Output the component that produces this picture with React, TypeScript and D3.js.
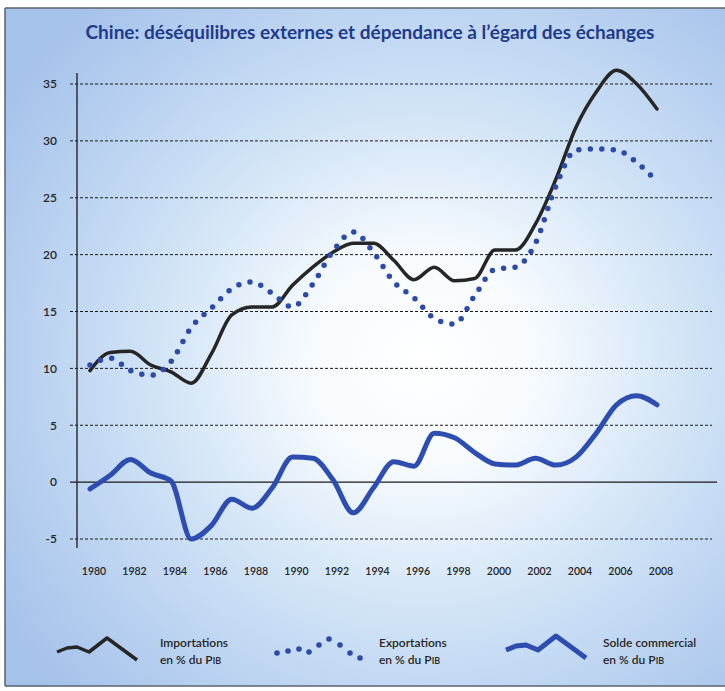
import * as d3 from "d3";
import React, { useEffect, useRef } from "react";

// Chine : importations, exportations, solde commercial (% du PIB)
const years = d3.range(1980, 2009);

const importations = [
  9.8, 11.4, 11.5, 10.3, 9.7, 8.7, 11.3, 14.7, 15.4, 15.4, 17.3, 18.9, 20.2,
  21.0, 21.0, 19.5, 17.8, 18.9, 17.7, 17.9, 20.4, 20.4, 22.7, 26.6, 31.2, 34.3,
  36.2, 35.0, 32.8,
];

const exportations = [
  10.3, 10.9, 9.8, 9.4, 10.6, 13.6, 15.3, 17.0, 17.6, 16.6, 15.4, 17.4, 20.3,
  22.0, 20.2, 17.6, 16.2, 14.4, 13.9, 16.4, 18.7, 18.9, 21.0, 26.0, 29.2, 29.3,
  29.2, 28.1, 26.4,
];

const solde = [
  -0.6, 0.6, 2.0, 0.8, 0.1, -5.0, -3.8, -1.5, -2.3, -0.5, 2.2, 2.1, 0.2, -2.7,
  -0.5, 1.8, 1.4, 4.3, 3.9, 2.6, 1.6, 1.5, 2.1, 1.5, 2.2, 4.3, 6.8, 7.6, 6.8,
];

const yTicks = [-5, 0, 5, 10, 15, 20, 25, 30, 35];
const xTicks = d3.range(1980, 2009, 2);

const title =
  "Chine: déséquilibres externes et dépendance à l\u2019égard des échanges";

const legendItems = ["Importations", "Exportations", "Solde commercial"];

const App: React.FC = () => {
  const svgRef = useRef<SVGSVGElement>(null);

  useEffect(() => {
    if (!svgRef.current) return;
    const width = 725;
    const height = 691;
    const font = "Lato, 'Open Sans', sans-serif";
    const blue = "#2c4aa8";
    const ink = "#262626";

    d3.select(svgRef.current).selectAll("*").remove();
    const svg = d3
      .select(svgRef.current)
      .attr("width", width)
      .attr("height", height)
      .style("display", "block");

    // background
    const defs = svg.append("defs");
    const grad = defs
      .append("radialGradient")
      .attr("id", "bg")
      .attr("cx", "0.58")
      .attr("cy", "0.52")
      .attr("r", "0.7");
    grad.append("stop").attr("offset", "0%").attr("stop-color", "#ffffff");
    grad.append("stop").attr("offset", "22%").attr("stop-color", "#f7fbfe");
    grad.append("stop").attr("offset", "55%").attr("stop-color", "#cfe2f6");
    grad.append("stop").attr("offset", "100%").attr("stop-color", "#a5c2eb");

    svg.append("rect").attr("width", width).attr("height", height).attr("fill", "#fff");
    svg
      .append("rect")
      .attr("x", 5)
      .attr("y", 8)
      .attr("width", width - 5)
      .attr("height", 678)
      .attr("fill", "url(#bg)");
    const frame = svg.append("g").attr("stroke", "#5a6270").attr("stroke-width", 1.5);
    frame.append("line").attr("x1", 5).attr("x2", width).attr("y1", 8).attr("y2", 8);
    frame.append("line").attr("x1", 5).attr("x2", 5).attr("y1", 8).attr("y2", 686);
    frame.append("line").attr("x1", 5).attr("x2", width).attr("y1", 686).attr("y2", 686);

    // title
    svg
      .append("text")
      .attr("x", 370)
      .attr("y", 39)
      .attr("text-anchor", "middle")
      .attr("font-family", font)
      .attr("font-weight", 700)
      .attr("font-size", 19)
      .attr("fill", "#1f3b8c")
      .text(title);

    // scales
    const x = d3.scaleLinear().domain([1980, 2008]).range([90, 657]);
    const y = d3.scaleLinear().domain([-5, 35]).range([539, 84]);

    // grid
    const grid = svg.append("g");
    grid
      .selectAll("line")
      .data(yTicks)
      .join("line")
      .attr("x1", 70)
      .attr("x2", (d) => (d === 0 ? 717 : 712))
      .attr("y1", (d) => y(d))
      .attr("y2", (d) => y(d))
      .attr("stroke", "#1a1a1a")
      .attr("stroke-width", (d) => (d === 0 ? 1.3 : 1))
      .attr("stroke-dasharray", (d) => (d === 0 ? null : "3 2"));

    svg
      .append("line")
      .attr("x1", 77)
      .attr("x2", 77)
      .attr("y1", 73)
      .attr("y2", 548)
      .attr("stroke", "#1a1a1a")
      .attr("stroke-width", 1.3);

    svg
      .append("g")
      .selectAll("text")
      .data(yTicks)
      .join("text")
      .attr("x", 57)
      .attr("y", (d) => y(d))
      .attr("dy", "0.36em")
      .attr("text-anchor", "end")
      .attr("font-family", font)
      .attr("font-weight", 600)
      .attr("font-size", 12)
      .attr("fill", ink)
      .text((d) => String(d));

    svg
      .append("g")
      .selectAll("text")
      .data(xTicks)
      .join("text")
      .attr("x", (d) => x(d) + 4)
      .attr("y", 575)
      .attr("text-anchor", "middle")
      .attr("font-family", font)
      .attr("font-weight", 600)
      .attr("font-size", 10.5)
      .attr("fill", ink)
      .text((d) => String(d));

    // series
    const line = d3
      .line<number>()
      .x((d, i) => x(years[i]))
      .y((d) => y(d))
      .curve(d3.curveMonotoneX);

    svg
      .append("path")
      .attr("d", line(solde) || "")
      .attr("fill", "none")
      .attr("stroke", "#2d4db0")
      .attr("stroke-width", 5)
      .attr("stroke-linejoin", "round")
      .attr("stroke-linecap", "round");

    svg
      .append("path")
      .attr("d", line(importations) || "")
      .attr("fill", "none")
      .attr("stroke", ink)
      .attr("stroke-width", 3.5)
      .attr("stroke-linejoin", "round")
      .attr("stroke-linecap", "round");

    svg
      .append("path")
      .attr("d", line(exportations) || "")
      .attr("fill", "none")
      .attr("stroke", blue)
      .attr("stroke-width", 5.5)
      .attr("stroke-dasharray", "0 11.5")
      .attr("stroke-linecap", "round");

    // legend
    const glyph: [number, number][] = [
      [0, 14],
      [10, 10],
      [20, 9],
      [32, 14],
      [50, 0],
      [80, 22],
    ];
    const dots: [number, number][] = [
      [0, 15],
      [11, 13],
      [22, 11],
      [32, 14],
      [42, 7],
      [52, 1],
      [63, 7],
      [73, 15],
      [83, 20],
    ];
    const glyphLine = d3.line().curve(d3.curveLinear);
    const legend = svg.append("g").attr("font-family", font).attr("font-size", 12);

    legend
      .append("path")
      .attr("transform", "translate(57,638)")
      .attr("d", glyphLine(glyph) || "")
      .attr("fill", "none")
      .attr("stroke", ink)
      .attr("stroke-width", 3.5)
      .attr("stroke-linejoin", "round");

    legend
      .append("g")
      .attr("transform", "translate(277,638)")
      .selectAll("circle")
      .data(dots)
      .join("circle")
      .attr("cx", (d) => d[0])
      .attr("cy", (d) => d[1])
      .attr("r", 2.8)
      .attr("fill", blue);

    legend
      .append("path")
      .attr("transform", "translate(506,636)")
      .attr("d", glyphLine(glyph) || "")
      .attr("fill", "none")
      .attr("stroke", "#2d4db0")
      .attr("stroke-width", 5)
      .attr("stroke-linejoin", "round");

    const textX = [160, 379, 603];
    legendItems.forEach((label, i) => {
      const t = legend
        .append("text")
        .attr("x", textX[i])
        .attr("y", 647)
        .attr("font-weight", 600)
        .attr("fill", ink);
      t.append("tspan").text(label);
      const t2 = legend
        .append("text")
        .attr("x", textX[i])
        .attr("y", 664)
        .attr("font-weight", 600)
        .attr("fill", ink);
      t2.append("tspan").text("en % du P");
      t2.append("tspan").attr("font-size", 9).text("IB");
    });
  }, []);

  return (
    <div style={{ position: "absolute", left: 0, top: 0 }}>
      <svg ref={svgRef} />
    </div>
  );
};

export default App;
